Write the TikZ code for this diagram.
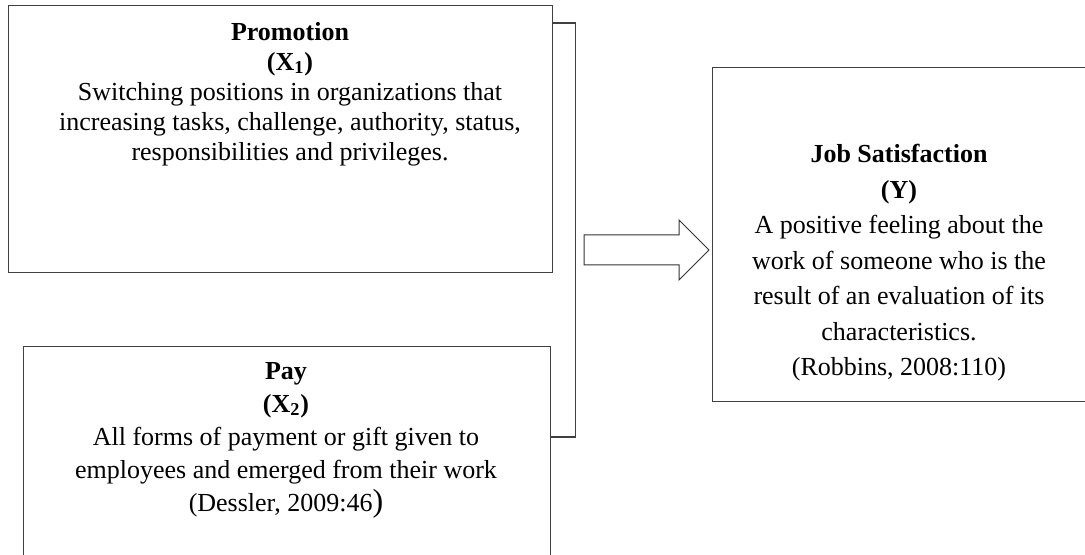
\documentclass[tikz,border=0pt]{standalone}
\usepackage{fontspec}
\setmainfont{Liberation Serif}

\tikzset{
  varbox/.style={draw=black!75, line width=0.7pt, anchor=north west, inner sep=0pt},
  vartext/.style={align=center, inner sep=0pt},
}

\begin{document}
\begin{tikzpicture}[x=0.5pt,y=-0.5pt]
  \useasboundingbox (0,0) rectangle (1085,555);
  \clip (0,0) rectangle (1085,555);

 % boxes
  \node[varbox, minimum width=272pt, minimum height=133.5pt] (prom) at (8,5) {};
  \node[varbox, minimum width=263.5pt, minimum height=140pt] (pay) at (23,346) {};
  \node[varbox, minimum width=194pt, minimum height=167pt] (ysat) at (712,67) {};

 % texts
  \node[vartext, font=\fontsize{13}{15}\selectfont] (promtxt) at (290,94)
    {\textbf{Promotion}\\\textbf{(X\textsubscript{1})}\\
     Switching positions in organizations that\\
     increasing tasks, challenge, authority, status,\\
     responsibilities and privileges.};
  \node[vartext, font=\fontsize{13}{16.5}\selectfont] (paytxt) at (286,440)
    {\textbf{Pay}\\\textbf{(X\textsubscript{2})}\\
     All forms of payment or gift given to\\
     employees and emerged from their work\\
     (Dessler, 2009:46{\fontsize{16}{16}\selectfont)}};
  \node[vartext, font=\fontsize{13}{17.75}\selectfont] (ytxt) at (899,263)
    {\textbf{Job Satisfaction}\\\textbf{(Y)}\\
     A positive feeling about the\\
     work of someone who is the\\
     result of an evaluation of its\\
     characteristics.\\
     (Robbins, 2008:110)};

 % bracket
  \coordinate (btop) at ([yshift=-9pt]prom.north east);
  \coordinate (bbot) at ([yshift=-45.5pt]pay.north east);
  \draw[black!75, line width=0.7pt] (btop) -- ++(22,0) |- (bbot);

 % arrow
  \draw[black!80, line width=0.5pt] (584,235) -- (679,235) -- (679,220)
    -- (709,250) -- (679,280) -- (679,265) -- (584,265) -- cycle;
\end{tikzpicture}
\end{document}
